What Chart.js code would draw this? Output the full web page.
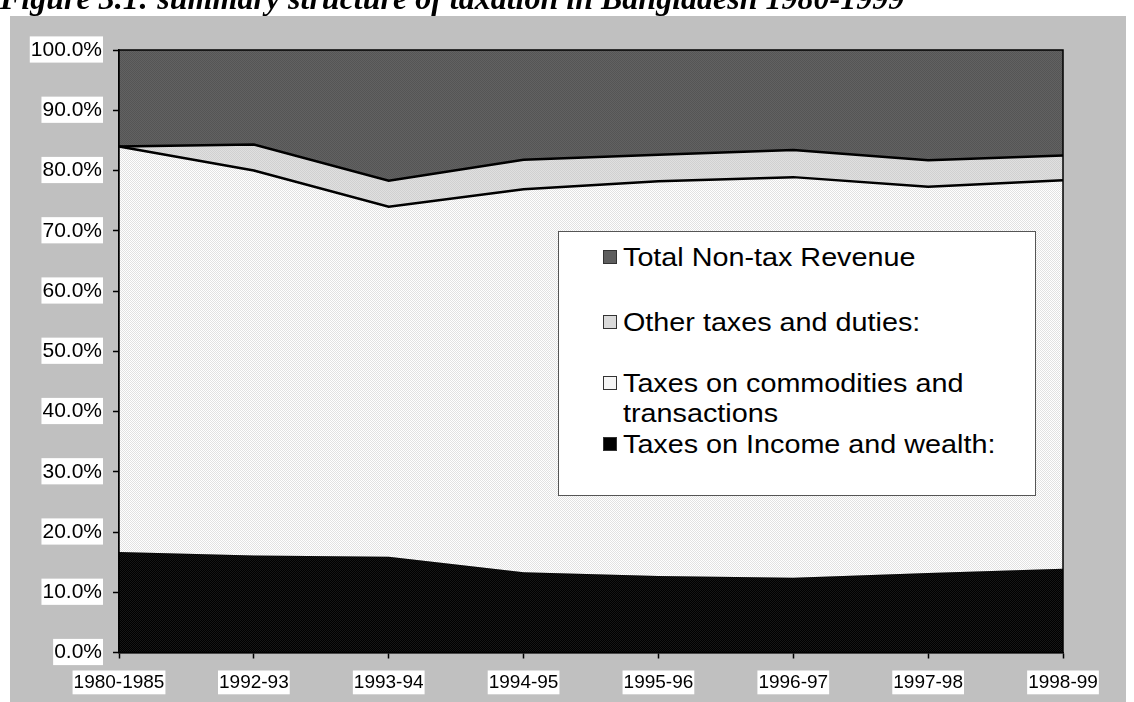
<!DOCTYPE html>
<html>
<head>
<meta charset="utf-8">
<script src="https://cdn.jsdelivr.net/npm/chart.js@4.4.1/dist/chart.umd.min.js"></script>
<style>
  html, body { margin: 0; padding: 0; background: #fff; overflow: hidden; }
  #wrap { position: relative; width: 1134px; height: 702px; }
  #title { position: absolute; left: 0; top: -18px; white-space: nowrap;
    font: bold italic 32px "Liberation Serif", "Times New Roman", serif; line-height: 32px; color: #000; }
  #legend { position: absolute; left: 558px; top: 231px; width: 476px; height: 263px;
    background: #fff; border: 1px solid #555; font-family: "Liberation Sans", Arial, sans-serif;
    font-size: 25px; color: #000; }
  .item { position: absolute; left: 44px; line-height: 30px; }
  .mark { position: absolute; left: 0; top: 8px; width: 14px; height: 14px; border: 1px solid #333; box-sizing: border-box; }
  .txt { position: absolute; left: 20px; top: 0; width: 338px; transform: scaleX(1.15); transform-origin: 0 0; }
</style>
</head>
<body>
<div id="wrap">
  <canvas id="chart" width="1134" height="702"></canvas>
  <div id="title">Figure 3.1: summary structure of taxation in Bangladesh 1980-1999</div>
  <div id="legend"></div>
</div>
<script>
const years = ['1980-1985', '1992-93', '1993-94', '1994-95', '1995-96', '1996-97', '1997-98', '1998-99'];
const incomeTax = [16.7, 16.1, 15.9, 13.3, 12.7, 12.4, 13.2, 13.9];
const commodityTax = [67.3, 63.9, 58.1, 63.6, 65.5, 66.5, 64.1, 64.5];
const otherTax = [0.0, 4.3, 4.3, 4.9, 4.4, 4.5, 4.4, 4.1];
const nonTax = [16.0, 15.7, 21.7, 18.2, 17.4, 16.6, 18.3, 17.5];
const seriesNames = ['Taxes on Income and wealth:', 'Taxes on commodities and transactions', 'Other taxes and duties:', 'Total Non-tax Revenue'];
const yTicks = [0, 10, 20, 30, 40, 50, 60, 70, 80, 90, 100];

function makePattern(a, b) {
    let c = document.createElement('canvas');
    c.width = 2; c.height = 2;
    let g = c.getContext('2d');
    g.fillStyle = a; g.fillRect(0, 0, 2, 2);
    g.fillStyle = b; g.fillRect(0, 0, 1, 1); g.fillRect(1, 1, 1, 1);
    return g.createPattern(c, 'repeat');
}

let ctx = document.getElementById('chart').getContext('2d');
let fills = [
    makePattern('#000000', '#161616'),
    makePattern('#ffffff', '#e2e2e2'),
    makePattern('#e0e0e0', '#d0d0d0'),
    makePattern('#626262', '#555555')
];
let legendColors = ['#000000', '#f6f6f6', '#dadada', '#5e5e5e'];

const backdrop = {
    id: 'backdrop',
    beforeDraw(chart) {
        let c = chart.ctx;
        c.save();
        c.fillStyle = '#c0c0c0';
        c.fillRect(10, 16, 1116, 686);
        c.restore();
    },
    afterDatasetsDraw(chart) {
        let a = chart.chartArea, c = chart.ctx;
        c.save();
        c.strokeStyle = '#000';
        c.lineWidth = 1.5;
        c.strokeRect(a.left, a.top, a.right - a.left, a.bottom - a.top);
        c.restore();
    }
};

new Chart(ctx, {
    type: 'line',
    data: {
        labels: years,
        datasets: [
            { label: seriesNames[0], data: incomeTax, fill: 'origin', backgroundColor: fills[0], borderWidth: 0, pointRadius: 0 },
            { label: seriesNames[1], data: commodityTax, fill: '-1', backgroundColor: fills[1], borderColor: '#000', borderWidth: 2.5, pointRadius: 0 },
            { label: seriesNames[2], data: otherTax, fill: '-1', backgroundColor: fills[2], borderColor: '#000', borderWidth: 2.5, pointRadius: 0 },
            { label: seriesNames[3], data: nonTax, fill: '-1', backgroundColor: fills[3], borderWidth: 0, pointRadius: 0 }
        ]
    },
    options: {
        responsive: false,
        animation: false,
        layout: { padding: { top: 50, right: 71, left: 0, bottom: 0 } },
        plugins: { legend: { display: false }, tooltip: { enabled: false } },
        scales: {
            x: {
                offset: false,
                grid: { drawOnChartArea: false, tickLength: 6, color: '#000', tickWidth: 1.5 },
                border: { color: '#000', width: 1.5 },
                ticks: { color: '#000', padding: 13, maxRotation: 0, autoSkip: false,
                    font: { family: '"Liberation Sans", Arial, sans-serif', size: 19 },
                    showLabelBackdrop: true, backdropColor: '#fff', backdropPadding: { top: 1, bottom: 0, left: 1, right: 1 } },
                afterFit(s) { s.height = 49.5; }
            },
            y: {
                stacked: true, min: 0, max: 100,
                grid: { drawOnChartArea: false, tickLength: 6, color: '#000', tickWidth: 1.5 },
                border: { color: '#000', width: 1.5 },
                afterBuildTicks(s) { s.ticks = yTicks.map(v => ({ value: v })); },
                ticks: { color: '#000', padding: 11,
                    font: { family: '"Liberation Sans", Arial, sans-serif', size: 21 },
                    callback: v => v.toFixed(1) + '%',
                    showLabelBackdrop: true, backdropColor: '#fff', backdropPadding: { top: 1, bottom: 0, left: 1, right: 1 } },
                afterFit(s) { s.width = 119; }
            }
        }
    },
    plugins: [backdrop]
});

// legend box, listed top to bottom like the original
let legendEl = document.getElementById('legend');
let rowTops = [10, 75, 136, 197];
[3, 2, 1, 0].forEach((idx, i) => {
    let item = document.createElement('div');
    item.className = 'item';
    item.style.top = rowTops[i] + 'px';
    let mark = document.createElement('div');
    mark.className = 'mark';
    mark.style.background = legendColors[idx];
    let txt = document.createElement('div');
    txt.className = 'txt';
    txt.textContent = seriesNames[idx];
    item.appendChild(mark);
    item.appendChild(txt);
    legendEl.appendChild(item);
});
</script>
</body>
</html>
